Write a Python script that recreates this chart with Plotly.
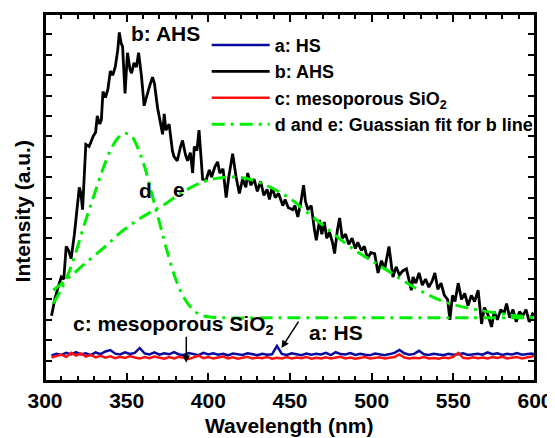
import plotly.graph_objects as go

# ---------------- data ----------------
wl_b = [304, 306, 308, 310, 311.5, 313, 314.5, 316, 318, 319, 321, 322, 323, 325, 327, 328,
        329.5, 331, 332, 333.5, 334.5, 335.5, 337, 338.5, 340, 341.5, 343, 344.5, 345.5, 346.5,
        347.5, 349, 350.5, 352, 353, 354.5, 356, 357.3, 359, 360.7, 362, 363.8, 365.8, 367,
        368.9, 370, 372, 373, 374, 376, 378, 379, 381, 383, 384.2, 386, 387.3, 389, 390.4,
        391.4, 393, 394.3, 396.5, 398.6, 400.6, 402, 404, 405.7, 407, 409, 410.9, 412.5,
        414.9, 417, 419, 421, 423, 424.1, 426, 428, 430, 432, 434, 436, 437.4, 439, 441, 443,
        445.6, 447, 449, 451.7, 453, 454.8, 456.5, 458.3, 459.5, 461, 463, 465, 466.1, 468.1,
        469.5, 471, 472.5, 474.2, 476, 477.3, 479, 480.4, 482, 484, 486, 488, 490, 491.5,
        493.7, 495.5, 497.5, 499.5, 501.8, 503.9, 506, 508, 510.6, 513, 515, 517, 519, 521.3,
        523, 524.3, 525.3, 527, 529, 531, 533, 535, 537, 538.7, 540.5, 542.5, 544.5, 546.5,
        547.9, 549.5, 551, 553, 555, 557, 559, 561, 563, 565.2, 567.3, 569, 571, 573.4, 575,
        577, 579, 581, 582.6, 584.5, 586.5, 588.5, 590.5, 592.5, 594.5, 596.5, 598.5, 600]
int_b = [3.2, 4.0, 4.6, 5.1, 5.0, 6.6, 6.4, 6.0, 7.2, 7.9, 9.5, 9.2, 8.4, 11.6, 11.5, 11.7,
         12.0, 12.2, 13.0, 12.6, 12.8, 14.2, 13.9, 14.3, 15.2, 15.0, 15.4, 16.2, 17.1, 16.6,
         16.4, 14.1, 16.1, 15.3, 15.1, 15.6, 15.4, 16.1, 15.0, 13.5, 13.9, 14.4, 14.9, 14.6,
         13.4, 12.9, 12.1, 13.1, 12.3, 12.6, 11.3, 11.0, 10.8, 11.5, 11.8, 11.1, 10.8, 11.2, 10.2,
         11.5, 11.3, 12.3, 9.9, 9.85, 10.35, 10.0, 10.5, 10.75, 10.2, 10.4, 9.0, 10.0,
         11.15, 10.0, 9.2, 9.9, 9.5, 10.2, 9.6, 9.9, 9.3, 9.8, 9.1, 9.4, 8.9, 9.5, 9.0, 9.2,
         8.6, 8.9, 8.5, 8.4, 8.6, 8.05, 8.7, 9.6, 8.8, 8.4, 8.6, 7.4, 6.9, 7.9,
         7.2, 7.8, 7.0, 7.3, 6.8, 6.25, 7.4, 8.0, 7.0, 7.2, 6.7, 7.0, 6.5, 6.8,
         6.4, 6.6, 6.0, 6.3, 6.25, 5.3, 5.9, 5.5, 6.6, 5.1, 5.6, 5.2, 5.4, 5.5,
         4.9, 4.45, 5.1, 4.8, 5.3, 4.7, 5.0, 4.6, 4.9, 5.3, 4.5, 4.8, 4.2, 4.0,
         3.0, 4.2, 3.9, 4.8, 4.0, 4.3, 3.7, 4.2, 3.9, 4.45, 2.8, 3.6, 3.3, 2.65, 3.4,
         3.0, 3.5, 3.3, 3.8, 3.1, 3.5, 2.9, 3.4, 3.2, 3.5, 2.9, 3.3, 3.2]

wl_base = [304, 307, 310, 313, 316, 319, 322, 325, 328, 331, 334, 337, 340, 343, 346, 349, 352,
           355, 358, 361, 364, 367, 370, 373, 376, 379, 382, 385, 388, 391, 394, 397, 400, 403,
           406, 409, 412, 415, 418, 421, 424, 427, 430, 433, 436, 439, 442, 445, 448, 451, 454,
           457, 460, 463, 466, 469, 472, 475, 478, 481, 484, 487, 490, 493, 496, 499, 502, 505,
           508, 511, 514, 517, 520, 523, 526, 529, 532, 535, 538, 541, 544, 547, 550, 553, 556,
           559, 562, 565, 568, 571, 574, 577, 580, 583, 586, 589, 592, 595, 598, 600]
int_a = [1.25, 1.33, 1.28, 1.38, 1.30, 1.42, 1.30, 1.36, 1.27, 1.40, 1.32, 1.45, 1.52, 1.34,
         1.30, 1.41, 1.33, 1.38, 1.62, 1.35, 1.30, 1.40, 1.29, 1.36, 1.31, 1.42, 1.30, 1.28,
         1.37, 1.31, 1.27, 1.38, 1.30, 1.36, 1.29, 1.33, 1.26, 1.35, 1.30, 1.28, 1.36, 1.30,
         1.27, 1.34, 1.29, 1.31, 1.72, 1.33, 1.28, 1.36, 1.30, 1.27, 1.35, 1.29, 1.33, 1.30,
         1.38, 1.27, 1.41, 1.32, 1.30, 1.37, 1.28, 1.33, 1.29, 1.26, 1.35, 1.30, 1.27, 1.32,
         1.38, 1.52, 1.36, 1.29, 1.33, 1.48, 1.31, 1.28, 1.34, 1.30, 1.27, 1.33, 1.29, 1.31,
         1.36, 1.28, 1.30, 1.34, 1.29, 1.40, 1.31, 1.36, 1.28, 1.33, 1.30, 1.37, 1.29, 1.32,
         1.35, 1.30]
int_c = [1.15, 1.22, 1.30, 1.18, 1.38, 1.25, 1.35, 1.20, 1.28, 1.16, 1.24, 1.14, 1.21, 1.12,
         1.19, 1.13, 1.22, 1.15, 1.10, 1.18, 1.12, 1.20, 1.14, 1.09, 1.17, 1.11, 1.19, 1.13,
         1.08, 1.16, 1.24, 1.12, 1.18, 1.10, 1.15, 1.20, 1.11, 1.16, 1.09, 1.14, 1.19, 1.10,
         1.15, 1.12, 1.18, 1.09, 1.14, 1.11, 1.17, 1.10, 1.15, 1.12, 1.18, 1.09, 1.14, 1.11,
         1.16, 1.10, 1.13, 1.19, 1.11, 1.15, 1.09, 1.14, 1.18, 1.10, 1.13, 1.16, 1.11, 1.15,
         1.18, 1.30, 1.15, 1.10, 1.14, 1.12, 1.17, 1.10, 1.13, 1.09, 1.15, 1.12, 1.18, 1.38,
         1.14, 1.10, 1.16, 1.12, 1.15, 1.10, 1.17, 1.13, 1.19, 1.11, 1.15, 1.18, 1.10, 1.14,
         1.20, 1.27]

wl_d = [305, 310, 315, 320, 325, 330, 335, 340, 345, 349, 353, 357, 361, 365, 370, 375, 380,
        385, 390, 395, 400, 410, 450, 500, 550, 600]
int_d = [3.8, 4.5, 5.4, 6.6, 7.9, 9.1, 10.3, 11.3, 11.95, 12.15, 12.0, 11.4, 10.5, 9.3, 7.8,
         6.3, 5.0, 4.1, 3.55, 3.25, 3.15, 3.1, 3.1, 3.1, 3.1, 3.1]

wl_e = [305, 315, 325, 337, 345, 355, 365, 372, 385, 400, 417, 431, 449, 460, 470, 480, 490,
        500, 509, 527, 544, 564, 585, 600]
int_e = [4.45, 5.1, 5.8, 6.6, 7.2, 7.8, 8.3, 8.6, 9.3, 9.85, 10.0, 9.75, 9.0, 8.3, 7.65, 7.0,
         6.4, 5.9, 5.45, 4.55, 3.9, 3.5, 3.24, 3.12]

x_ticks = [300, 350, 400, 450, 500, 550, 600]
x_range = [300, 600]
y_range = [0, 18]

# ---------------- figure ----------------
# the page body keeps its default 8px margin, so the figure is drawn 8px smaller
FONT = "Liberation Sans, Arial, sans-serif"
GREEN = "#00EE00"
DASH = "13px,6px,3px,6px"

fig = go.Figure()
fig.add_trace(go.Scatter(x=wl_base, y=int_a, mode="lines", name="a: HS",
                         line=dict(color="#0A0AA0", width=2.5)))
fig.add_trace(go.Scatter(x=wl_b, y=int_b, mode="lines", name="b: AHS",
                         line=dict(color="black", width=2.8)))
fig.add_trace(go.Scatter(x=wl_base, y=int_c, mode="lines", name="c: mesoporous SiO<sub>2</sub>",
                         line=dict(color="#FF1010", width=2.5)))
fig.add_trace(go.Scatter(x=wl_d, y=int_d, mode="lines", name="d and e: Guassian fit for b line",
                         legendgroup="fit", line=dict(color=GREEN, width=3, dash=DASH, shape="spline")))
fig.add_trace(go.Scatter(x=wl_e, y=int_e, mode="lines", name="e", showlegend=False,
                         legendgroup="fit", line=dict(color=GREEN, width=3, dash=DASH, shape="spline")))
# empty trace so that the top / right tick axes are drawn
fig.add_trace(go.Scatter(x=[], y=[], xaxis="x2", yaxis="y2", showlegend=False, hoverinfo="skip"))

ann_font = dict(family=FONT, size=21, color="black", weight="bold")
annotations = [
    dict(x=351.5, y=17.06, text="b: AHS", xanchor="left", yanchor="middle", showarrow=False, font=ann_font),
    dict(x=361.3, y=9.36, text="d", xanchor="center", yanchor="middle", showarrow=False, font=ann_font),
    dict(x=382.2, y=9.41, text="e", xanchor="center", yanchor="middle", showarrow=False, font=ann_font),
    dict(x=316, y=2.75, text="c: mesoporous SiO<sub>2</sub>", xanchor="left", yanchor="middle",
         showarrow=False, font=ann_font),
    dict(x=460.1, y=2.4, text="a: HS", xanchor="left", yanchor="middle", showarrow=False, font=ann_font),
    dict(x=386.5, y=0.9, ax=386.5, ay=2.25, axref="x", ayref="y", text="", showarrow=True,
         arrowhead=2, arrowsize=1, arrowwidth=1.5, arrowcolor="black"),
    dict(x=444.8, y=1.62, ax=455.8, ay=2.99, axref="x", ayref="y", text="", showarrow=True,
         arrowhead=2, arrowsize=1, arrowwidth=1.5, arrowcolor="black"),
    dict(x=0.498, y=-0.1226, xref="paper", yref="paper", text="Wavelength (nm)", showarrow=False,
         xanchor="center", yanchor="middle", font=ann_font),
    dict(x=-0.047, y=0.462, xref="paper", yref="paper", text="Intensity (a.u.)", showarrow=False,
         textangle=-90, xanchor="center", yanchor="middle", font=ann_font),
]

xcommon = dict(range=x_range, tickvals=x_ticks, ticks="inside", ticklen=8, tickwidth=1.5,
               tickcolor="black", showline=True, linewidth=2, linecolor="black",
               showgrid=False, zeroline=False,
               minor=dict(dtick=10, ticks="inside", ticklen=5, tickwidth=1.5, tickcolor="black",
                          showgrid=False))
ycommon = dict(range=y_range, dtick=1, tick0=0, ticks="inside", ticklen=7, tickwidth=1.5,
               tickcolor="black", showline=True, linewidth=2, linecolor="black",
               showgrid=False, zeroline=False, showticklabels=False)

fig.update_layout(
    width=547, height=430,
    margin=dict(l=37, r=20, t=6, b=57, autoexpand=False),
    paper_bgcolor="white", plot_bgcolor="white",
    font=dict(family=FONT, color="black"),
    showlegend=True,
    legend=dict(x=0.33, y=0.965, xanchor="left", yanchor="top", bgcolor="rgba(0,0,0,0)",
                font=dict(family=FONT, size=18, color="black", weight="bold"),
                itemwidth=58, tracegroupgap=0),
    annotations=annotations,
    shapes=[dict(type="rect", xref="paper", yref="paper", x0=0, x1=1, y0=0, y1=1,
                 line=dict(color="black", width=2), fillcolor="rgba(0,0,0,0)", layer="above")],
    xaxis=dict(**xcommon, tickfont=dict(family=FONT, size=21, color="black", weight="bold")),
    yaxis=dict(**ycommon),
    xaxis2=dict(**xcommon, overlaying="x", side="top", anchor="y", showticklabels=False),
    yaxis2=dict(**ycommon, overlaying="y", side="right", anchor="x"),
)

fig.write_html("out.html")
